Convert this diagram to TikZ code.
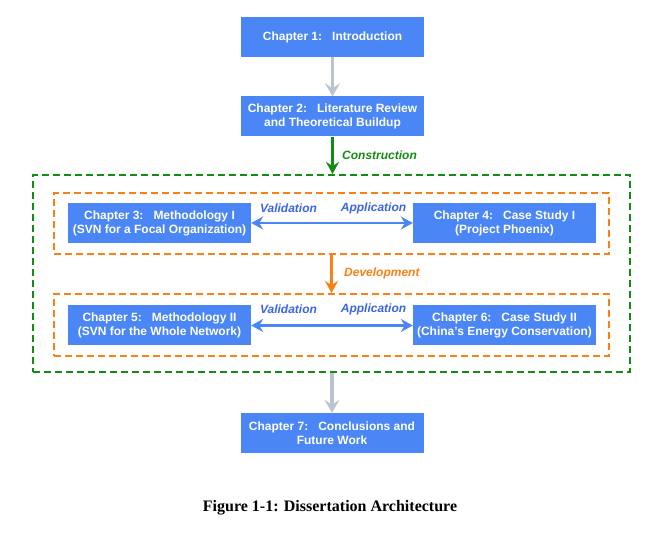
\documentclass[tikz,border=0pt]{standalone}
\usepackage{fontspec}
\setmainfont{Liberation Serif}
\setsansfont{Liberation Sans}
\usetikzlibrary{arrows.meta}
\definecolor{boxblue}{RGB}{74,134,245}
\definecolor{arrgray}{RGB}{184,196,210}
\definecolor{dgreen}{RGB}{20,140,20}
\definecolor{dorange}{RGB}{250,128,20}
\definecolor{lblblue}{RGB}{60,100,230}
\tikzset{
  chap/.style={fill=boxblue, text=white, font=\sffamily\bfseries\fontsize{12}{14}\selectfont, align=center, inner sep=0pt, minimum width=183pt, minimum height=40pt},
  grayarr/.style={draw=arrgray, line width=3.8pt, -{Stealth[length=13pt,width=15pt,inset=5pt]}},
  greenarr/.style={draw=dgreen, line width=2.8pt, -{Stealth[length=12pt,width=13pt,inset=4pt]}},
  orangearr/.style={draw=dorange, line width=2.8pt, -{Stealth[length=12pt,width=13pt,inset=4pt]}},
  bluearr/.style={draw=boxblue, line width=2.5pt, {Stealth[length=12pt,width=13pt,inset=4pt]}-{Stealth[length=12pt,width=13pt,inset=4pt]}},
  greenbox/.style={draw=dgreen, line width=2pt, dash pattern=on 7pt off 4pt},
  orangebox/.style={draw=dorange, line width=2pt, dash pattern=on 7pt off 4pt},
  lbl/.style={font=\sffamily\bfseries\itshape\fontsize{12}{14}\selectfont, inner sep=0pt}
}
\begin{document}
\begin{tikzpicture}[x=1pt,y=-1pt]
\useasboundingbox (0,0) rectangle (653,534);
% containers
\node[greenbox, minimum width=597pt, minimum height=197pt, inner sep=0pt] (gbox) at (331.5,273.5) {};
\node[orangebox, minimum width=555pt, minimum height=61pt, inner sep=0pt] (ob1) at (331.5,223.5) {};
\node[orangebox, minimum width=555pt, minimum height=62pt, inner sep=0pt] (ob2) at (331.5,325) {};
% chapters
\node[chap] (c1) at (332.5,37) {Chapter 1:\ \ \ Introduction};
\node[chap] (c2) at (332.5,116.5) {Chapter 2:\ \ \ Literature Review\\and Theoretical Buildup};
\node[chap] (c3) at (159.5,223) {Chapter 3:\ \ \ Methodology I\\(SVN for a Focal Organization)};
\node[chap] (c4) at (504.5,223) {Chapter 4:\ \ \ Case Study I\\(Project Phoenix)};
\node[chap] (c5) at (159.5,325.5) {Chapter 5:\ \ \ Methodology II\\(SVN for the Whole Network)};
\node[chap] (c6) at (504.5,325.5) {Chapter 6:\ \ \ Case Study II\\(China’s Energy Conservation)};
\node[chap] (c7) at (332,433) {Chapter 7:\ \ \ Conclusions and\\Future Work};
% connectors
\draw[grayarr] (c1.south) -- (c2.north);
\draw[greenarr] (c2.south) -- (gbox.north -| c2.south);
\draw[orangearr] (ob1.south) -- (ob2.north);
\draw[grayarr] (gbox.south -| c7.north) -- (c7.north);
\draw[bluearr] (c3.east) -- (c4.west);
\draw[bluearr] (c5.east) -- (c6.west);
% labels
\node[lbl, text=dgreen, anchor=west] (lcon) at (342,155) {Construction};
\node[lbl, text=dorange, anchor=west] (ldev) at (344,273) {Development};
\node[lbl, text=lblblue] (lv1) at (288.5,208) {Validation};
\node[lbl, text=lblblue] (la1) at (373.5,208) {Application};
\node[lbl, text=lblblue] (lv2) at (288.5,309) {Validation};
\node[lbl, text=lblblue] (la2) at (373.5,309) {Application};
% caption
\node[font=\bfseries\fontsize{16}{18}\selectfont, inner sep=0pt] (cap) at (330,508) {Figure 1-1: Dissertation Architecture};
\end{tikzpicture}
\end{document}
